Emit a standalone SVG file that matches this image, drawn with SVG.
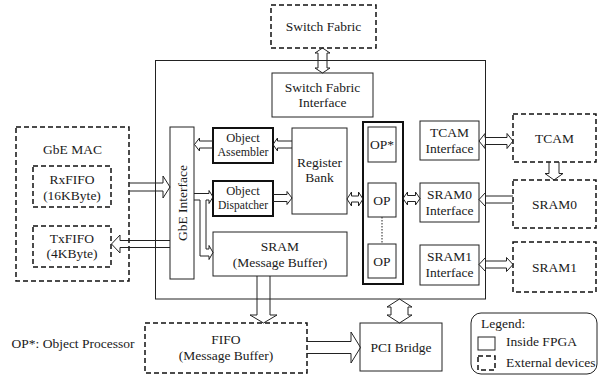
<svg xmlns="http://www.w3.org/2000/svg" width="608" height="375" viewBox="0 0 608 375">
<style>
text{font-family:"Liberation Serif","Times New Roman",serif;font-size:13.5px;fill:#1a1a1a;text-anchor:middle}
.s{font-size:12.5px}
.b{fill:#fff;stroke:#222;stroke-width:1}
.t{fill:#fff;stroke:#111;stroke-width:2}
.d{fill:#fff;stroke:#111;stroke-width:1.5;stroke-dasharray:5 3}
.a{fill:none;stroke:#222;stroke-width:1;stroke-linejoin:miter}
.l{text-anchor:start}
</style>
<rect width="608" height="375" fill="#fff"/>
<g id="fpga"><rect class="b" x="155.5" y="60.5" width="330" height="238.5"/></g>
<g id="switch-fabric"><rect class="d" x="271" y="5" width="105" height="43"/><text x="323.5" y="31">Switch Fabric</text></g>
<g id="switch-fabric-interface"><rect class="b" x="272" y="73" width="101" height="44"/><text x="322.5" y="92">Switch Fabric</text><text x="322.5" y="107">Interface</text></g>
<g id="gbe-mac"><rect class="d" x="16" y="127" width="113" height="154"/><text x="72.5" y="154">GbE MAC</text></g>
<g id="rxfifo"><rect class="d" x="33" y="166" width="78" height="41"/><text x="72" y="184">RxFIFO</text><text x="72" y="200">(16KByte)</text></g>
<g id="txfifo"><rect class="d" x="33" y="226" width="78" height="41"/><text x="72" y="243">TxFIFO</text><text x="72" y="258">(4KByte)</text></g>
<g id="gbe-interface"><rect class="b" x="170" y="127" width="24" height="152"/><text transform="translate(186.5,203) rotate(-90)">GbE Interface</text></g>
<g id="object-assembler"><rect class="t" x="213" y="128" width="60" height="35"/><text class="s" x="243" y="142">Object</text><text class="s" x="243" y="156" textLength="51" lengthAdjust="spacingAndGlyphs">Assembler</text></g>
<g id="object-dispatcher"><rect class="t" x="213" y="181" width="60" height="35"/><text class="s" x="243" y="195">Object</text><text class="s" x="243" y="209" textLength="50" lengthAdjust="spacingAndGlyphs">Dispatcher</text></g>
<g id="register-bank"><rect class="b" x="292" y="128" width="55" height="86"/><text x="319.5" y="167">Register</text><text x="319.5" y="182">Bank</text></g>
<g id="sram-buffer"><rect class="b" x="213" y="232" width="134" height="44"/><text x="280" y="251">SRAM</text><text x="280" y="267">(Message Buffer)</text></g>
<g id="op-array"><rect class="t" x="363" y="122" width="40" height="162"/>
<rect class="b" x="368" y="127" width="28" height="35"/><text x="382" y="149">OP*</text>
<rect class="b" x="368" y="183" width="28" height="34"/><text x="382" y="205">OP</text>
<line x1="382" y1="217" x2="382" y2="244" stroke="#222" stroke-width="1" stroke-dasharray="1.5 1.5"/>
<rect class="b" x="368" y="244" width="28" height="34"/><text x="382" y="265.5">OP</text></g>
<g id="tcam-interface"><rect class="b" x="420" y="121" width="59" height="39"/><text x="449.5" y="137">TCAM</text><text x="449.5" y="153">Interface</text></g>
<g id="sram0-interface"><rect class="b" x="420" y="183" width="59" height="39"/><text x="449.5" y="199">SRAM0</text><text x="449.5" y="215">Interface</text></g>
<g id="sram1-interface"><rect class="b" x="420" y="245" width="59" height="40"/><text x="449.5" y="261">SRAM1</text><text x="449.5" y="277">Interface</text></g>
<g id="tcam"><rect class="d" x="513" y="114" width="83" height="48"/><text x="554.5" y="143">TCAM</text></g>
<g id="sram0"><rect class="d" x="513" y="180" width="83" height="48"/><text x="554.5" y="208.5">SRAM0</text></g>
<g id="sram1"><rect class="d" x="513" y="242" width="83" height="50"/><text x="554.5" y="271.5">SRAM1</text></g>
<g id="fifo"><rect class="d" x="145" y="323" width="162" height="50"/><text x="226" y="344">FIFO</text><text x="226" y="360">(Message Buffer)</text></g>
<g id="pci-bridge"><rect class="b" x="360" y="323" width="82" height="48"/><text x="401" y="352">PCI Bridge</text></g>
<g id="note"><text class="l" x="11.5" y="348">OP*: Object Processor</text></g>
<g id="legend"><rect x="471" y="313" width="126" height="61" rx="10" fill="#fff" stroke="#222" stroke-width="1"/>
<text class="l" x="481" y="328">Legend:</text>
<rect class="b" x="478" y="337" width="17" height="13"/><text class="l" x="506" y="346">Inside FPGA</text>
<rect class="d" x="478" y="356" width="17" height="14"/><text class="l" x="506" y="367">External devices</text></g>
<g id="connectors">
<path class="a" d="M322.5,48 L330,53 H327 V68 H330 L322.5,73 L315,68 H318 V53 H315 Z"/>
<path class="a" d="M129.5,183 H163 V176 L170,187 L163,198 V191 H129.5"/>
<path class="a" d="M170,240.5 H120 V235 L111.5,244 L120,253 V247.5 H170"/>
<path class="a" d="M213,141 H199.5 V138 L194.5,144.5 L199.5,151 V148 H213"/>
<path class="a" d="M292,141 H277.5 V138 L273,144.5 L277.5,151 V148 H292"/>
<path class="a" d="M194,193.5 H209 V190.5 L213,197 L209,203.5 V200 H206 V249 H209 V245.5 L213,252.5 L209,259.5 V256 H200 V200 H194"/>
<path class="a" d="M273,194.5 H287 V191.5 L292,198 L287,204.5 V201.5 H273"/>
<path class="a" d="M347,199 L351.5,192 V196 H358.5 V192 L363,199 L358.5,206 V202 H351.5 V206 Z"/>
<path class="a" d="M403,198.5 L407.5,192 V195.5 H415.5 V192 L420,198.5 L415.5,205 V201.5 H407.5 V205 Z"/>
<path class="a" d="M479,141 L485,133.5 V137.5 H507 V133.5 L513,141 L507,148.5 V144.5 H485 V148.5 Z"/>
<path class="a" d="M513,196 H485.5 V192.5 L479,199.5 L485.5,206.5 V203 H513"/>
<path class="a" d="M479,264.5 L485.5,257.5 V261 H506.5 V257.5 L513,264.5 L506.5,271.5 V268 H485.5 V271.5 Z"/>
<path class="a" d="M549,162 V173.5 H545 L554,180 L563,173.5 H559 V162"/>
<path class="a" d="M257,276 V315 H250 L263.5,323 L277,315 H270 V276"/>
<path class="a" d="M307,341.5 H351 V332 L360.5,347.5 L351,363 V353.5 H307"/>
<path class="a" d="M399.5,299 L412,307 H408 V315 H412 L399.5,323 L387,315 H391 V307 H387 Z"/>
</g>
</svg>
